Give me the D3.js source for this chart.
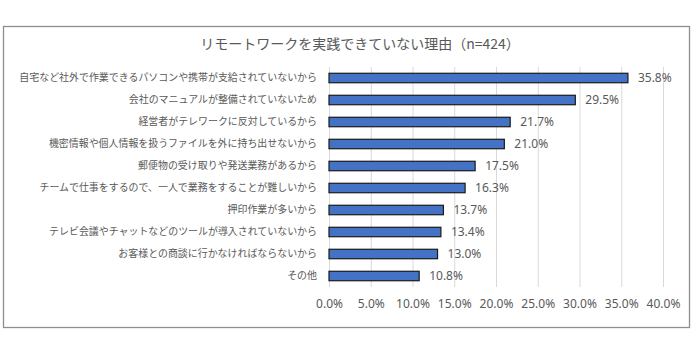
<!DOCTYPE html>
<html><head><meta charset="utf-8">
<script src="https://cdn.jsdelivr.net/npm/d3@7"></script>
<style>body{margin:0;background:#fff}svg{display:block}</style>
</head><body>
<svg id="c" width="700" height="356"></svg>
<script>
const title = "リモートワークを実践できていない理由（n=424）";
const categories = [
  "自宅など社外で作業できるパソコンや携帯が支給されていないから",
  "会社のマニュアルが整備されていないため",
  "経営者がテレワークに反対しているから",
  "機密情報や個人情報を扱うファイルを外に持ち出せないから",
  "郵便物の受け取りや発送業務があるから",
  "チームで仕事をするので、一人で業務をすることが難しいから",
  "押印作業が多いから",
  "テレビ会議やチャットなどのツールが導入されていないから",
  "お客様との商談に行かなければならないから",
  "その他"
];
const values = [35.8, 29.5, 21.7, 21.0, 17.5, 16.3, 13.7, 13.4, 13.0, 10.8];
const ticks = [0, 5, 10, 15, 20, 25, 30, 35, 40];

const svg = d3.select("#c");
const jp = "'Noto Sans CJK JP','Noto Sans',sans-serif";

svg.append("rect").attr("x",3.5).attr("y",26.5).attr("width",686).attr("height",301)
  .attr("fill","#fff").attr("stroke","#8f8f8f").attr("stroke-width",1.3);

svg.append("text").attr("x",360).attr("y",49).attr("text-anchor","middle")
  .attr("font-family",jp).attr("font-size",14).attr("fill","#595959").text(title);

const x = d3.scaleLinear().domain([0,40]).range([329,663]);
const y = d3.scaleBand().domain(categories).range([67,287]).paddingInner(0.57).paddingOuter(0.285);

const g = svg.append("g");
g.selectAll("line.grid").data(ticks).join("line").attr("class","grid")
  .attr("x1",d=>x(d)+0.5).attr("x2",d=>x(d)+0.5).attr("y1",67).attr("y2",287)
  .attr("stroke","#d9d9d9").attr("stroke-width",1);

const xa = d3.axisBottom(x).tickValues(ticks).tickSize(0).tickFormat(d=>d.toFixed(1)+"%");
const xg = svg.append("g").attr("transform","translate(0,296)").call(xa);
xg.select(".domain").remove();
xg.selectAll("text").attr("font-family","'Noto Sans',sans-serif").attr("font-size",12).attr("fill","#595959");

const ya = d3.axisLeft(y).tickSize(0).tickPadding(12);
const yg = svg.append("g").attr("transform","translate(329,0)").call(ya);
yg.select(".domain").remove();
yg.selectAll("text").attr("font-family",jp).attr("font-size",9.95).attr("fill","#595959");

g.selectAll("rect.bar").data(values).join("rect").attr("class","bar")
  .attr("x",x(0)).attr("y",(d,i)=>y(categories[i]))
  .attr("width",d=>x(d)-x(0)).attr("height",y.bandwidth())
  .attr("fill","#4472C4").attr("stroke","#1a1a1a").attr("stroke-width",1.2);

g.selectAll("text.val").data(values).join("text").attr("class","val")
  .attr("x",d=>x(d)+10).attr("y",(d,i)=>y(categories[i])+y.bandwidth()/2)
  .attr("dy","0.36em").attr("font-family","'Noto Sans',sans-serif").attr("font-size",12)
  .attr("fill","#595959").text(d=>d.toFixed(1)+"%");
</script>
</body></html>
